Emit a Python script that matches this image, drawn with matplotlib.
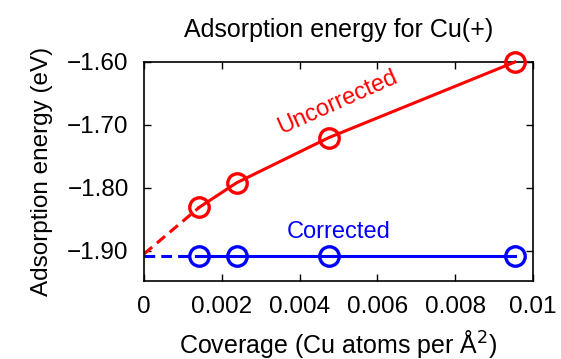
import numpy as np
import matplotlib
matplotlib.use("Agg")
import matplotlib.pyplot as plt

plt.rcParams['font.family'] = ['Liberation Sans', 'DejaVu Sans']

# coverage (Cu atoms per A^2)
coverage = [0.00142, 0.00238, 0.00476, 0.00954]
uncorrected = [-1.831, -1.792, -1.720, -1.600]
corrected = [-1.909, -1.909, -1.909, -1.909]
# extrapolated values at zero coverage
unc_zero = -1.905
cor_zero = -1.909

xticks = [0, 0.002, 0.004, 0.006, 0.008, 0.01]
xticklabels = ['0', '0.002', '0.004', '0.006', '0.008', '0.01']
yticks = [-1.60, -1.70, -1.80, -1.90]
yticklabels = ['\u22121.60', '\u22121.70', '\u22121.80', '\u22121.90']

fig = plt.figure(figsize=(5.61, 3.59), dpi=100)
ax = fig.add_axes([0.2567, 0.2173, 0.693, 0.610])

red = '#ff0000'
blue = '#0000ff'
ax.plot([0, coverage[0]], [unc_zero, uncorrected[0]], '--', color=red, lw=2.2, dashes=(3.5, 2))
ax.plot([0, coverage[0]], [cor_zero, corrected[0]], '--', color=blue, lw=2.2, dashes=(3.5, 2))
ax.plot(coverage, uncorrected, '-', color=red, lw=2.2, marker='o', ms=14,
        mfc='none', mec=red, mew=2.4, clip_on=False, zorder=3)
ax.plot(coverage, corrected, '-', color=blue, lw=2.2, marker='o', ms=14,
        mfc='none', mec=blue, mew=2.4, clip_on=False, zorder=3)

ax.text(0.00499, -1.664, 'Uncorrected', color=red, fontsize=17, rotation=24,
        ha='center', va='center', rotation_mode='anchor')
ax.text(0.00501, -1.870, 'Corrected', color=blue, fontsize=17,
        ha='center', va='center')

ax.set_xlim(0, 0.01)
ax.set_ylim(-1.948, -1.60)
ax.set_xticks(xticks)
ax.set_xticklabels(xticklabels)
ax.set_yticks(yticks)
ax.set_yticklabels(yticklabels)
ax.tick_params(direction='in', top=True, right=True, length=5, width=1,
               labelsize=17.5, pad=11)
for s in ax.spines.values():
    s.set_linewidth(1.2)

ax.set_title('Adsorption energy for Cu(+)', fontsize=18, pad=18)
ax.set_xlabel('Coverage (Cu atoms per \u00c5$^2$)', fontsize=18, labelpad=7)
ax.set_ylabel('Adsorption energy (eV)', fontsize=17.5, labelpad=10)

fig.savefig('out.png', dpi=100)
